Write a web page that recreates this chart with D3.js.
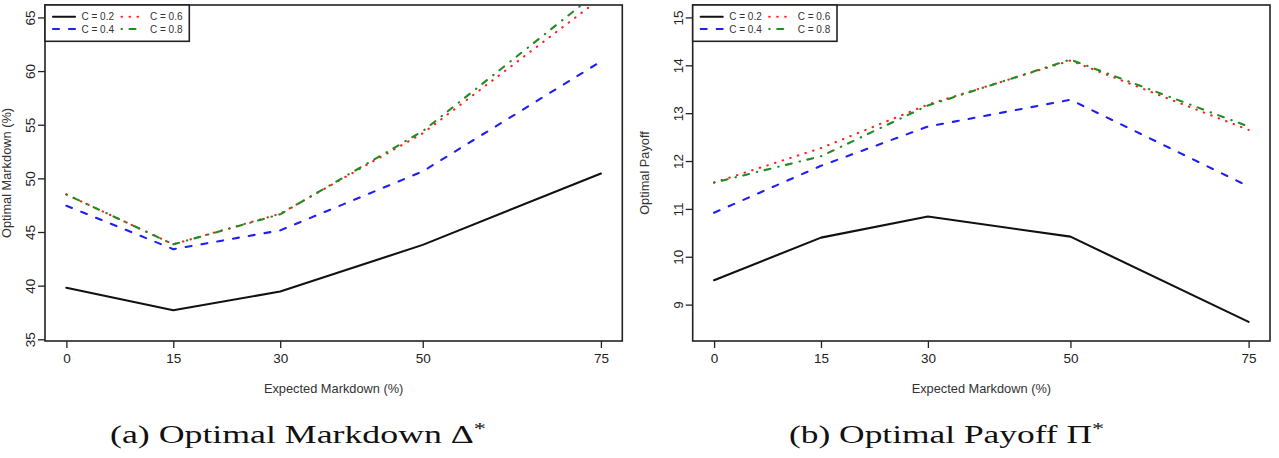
<!DOCTYPE html>
<html>
<head>
<meta charset="utf-8">
<script src="https://cdn.jsdelivr.net/npm/d3@7"></script>
<style>
  body { margin: 0; background: #fff; }
  svg { display: block; }
  .tick text { font-family: "Liberation Sans", Arial, sans-serif; fill: #222; }
</style>
</head>
<body>
<svg id="chart" width="1279" height="458"></svg>
<script>
// Expected markdown levels on the x axis
const xValues = [0, 15, 30, 50, 75];
const seriesNames = ["C = 0.2", "C = 0.4", "C = 0.6", "C = 0.8"];

// Panel (a): optimal markdown (%)
const markdown02 = [39.8, 37.7, 39.45, 43.8, 50.45];
const markdown04 = [47.45, 43.4, 45.15, 50.65, 60.9];
const markdown06 = [48.5, 43.85, 46.7, 54.2, 66.8];
const markdown08 = [48.5, 43.85, 46.65, 54.4, 67.6];

// Panel (b): optimal payoff
const payoff02 = [9.51, 10.40, 10.84, 10.42, 8.64];
const payoff04 = [10.92, 11.9, 12.72, 13.28, 11.47];
const payoff06 = [11.55, 12.27, 13.18, 14.1, 12.65];
const payoff08 = [11.55, 12.1, 13.16, 14.12, 12.72];

const xTicks = [0, 15, 30, 50, 75];
const markdownTicks = [35, 40, 45, 50, 55, 60, 65];
const payoffTicks = [9, 10, 11, 12, 13, 14, 15];

// R style line types: solid, dashed, dotted, dot-dash
const lineStyles = [
  {color: "#111111", dash: null},
  {color: "#1f1ff0", dash: "6,10"},
  {color: "#ff2020", dash: "0.5,7.5"},
  {color: "#228b22", dash: "0.5,7.5,6,8"}
];

const svg = d3.select("#chart");

function drawPanel(p) {

  const g = svg.append("g");

  // ylim is padded by 4% like R does
  const x = d3.scaleLinear().domain([-3, 78]).range([p.x0, p.x1]);
  const y = d3.scaleLinear().domain(p.yDomain).range([p.y1, p.y0]);

  const clipId = "clip-" + p.id;
  g.append("clipPath").attr("id", clipId)
    .append("rect")
    .attr("x", p.x0).attr("y", p.y0)
    .attr("width", p.x1 - p.x0).attr("height", p.y1 - p.y0);

  const line = d3.line()
    .x((d, i) => x(xValues[i]))
    .y(d => y(d));

  p.series.forEach((values, i) => {
    const s = lineStyles[i];
    g.append("path")
      .attr("clip-path", "url(#" + clipId + ")")
      .attr("d", line(values))
      .attr("fill", "none")
      .attr("stroke", s.color)
      .attr("stroke-width", 2.1)
      .attr("stroke-linecap", "round")
      .attr("stroke-linejoin", "round")
      .attr("stroke-dasharray", s.dash);
  });

  // x axis
  const xAxis = g.append("g")
    .attr("transform", "translate(0," + p.y1 + ")")
    .call(d3.axisBottom(x).tickValues(xTicks).tickSize(7).tickPadding(5).tickSizeOuter(0));
  xAxis.select(".domain").remove();
  xAxis.selectAll(".tick line").attr("stroke", "#222").attr("stroke-width", 1.3);
  xAxis.selectAll(".tick text").attr("font-size", 13.5);

  // y axis, labels turned like R's default
  const yAxis = g.append("g")
    .attr("transform", "translate(" + p.x0 + ",0)")
    .call(d3.axisLeft(y).tickValues(p.yTicks).tickFormat(d3.format("d")).tickSize(7).tickSizeOuter(0));
  yAxis.select(".domain").remove();
  yAxis.selectAll(".tick line").attr("stroke", "#222").attr("stroke-width", 1.3);
  yAxis.selectAll(".tick text")
    .attr("font-size", 13.5)
    .attr("transform", "rotate(-90)")
    .attr("x", 0)
    .attr("y", -10)
    .attr("dy", 0)
    .attr("text-anchor", "middle");

  // plot box
  g.append("rect")
    .attr("x", p.x0).attr("y", p.y0)
    .attr("width", p.x1 - p.x0).attr("height", p.y1 - p.y0)
    .attr("fill", "none")
    .attr("stroke", "#222")
    .attr("stroke-width", 1.6);

  // axis titles
  g.append("text")
    .attr("x", x(37.5))
    .attr("y", 393)
    .attr("text-anchor", "middle")
    .attr("font-family", "Liberation Sans, Arial, sans-serif")
    .attr("font-size", 12.8)
    .attr("fill", "#333")
    .text("Expected Markdown (%)");

  g.append("text")
    .attr("transform", "translate(" + p.yTitleX + "," + ((p.y0 + p.y1) / 2) + ") rotate(-90)")
    .attr("text-anchor", "middle")
    .attr("font-family", "Liberation Sans, Arial, sans-serif")
    .attr("font-size", 12.8)
    .attr("fill", "#333")
    .text(p.yTitle);

  // legend, two columns
  const lg = g.append("g").attr("transform", "translate(" + p.x0 + "," + p.y0 + ")");
  lg.append("rect")
    .attr("width", 144.3).attr("height", 36.3)
    .attr("fill", "#fff")
    .attr("stroke", "#222")
    .attr("stroke-width", 1.6);

  seriesNames.forEach((name, i) => {
    const col = Math.floor(i / 2);
    const row = i % 2;
    const lx = 8 + col * 68.5;
    const ly = 11.7 + row * 12.3;
    const s = lineStyles[i];
    lg.append("line")
      .attr("x1", lx).attr("x2", lx + 22)
      .attr("y1", ly).attr("y2", ly)
      .attr("stroke", s.color)
      .attr("stroke-width", 2.1)
      .attr("stroke-linecap", "round")
      .attr("stroke-dasharray", s.dash);
    lg.append("text")
      .attr("x", lx + 28.5)
      .attr("y", ly)
      .attr("dy", "0.35em")
      .attr("font-family", "Liberation Sans, Arial, sans-serif")
      .attr("font-size", 10)
      .attr("fill", "#333")
      .text(name);
  });

  // caption under the panel
  const cap = svg.append("text")
    .attr("x", p.capX)
    .attr("y", 443)
    .attr("font-family", "Liberation Serif, Times New Roman, serif")
    .attr("font-size", 25)
    .attr("fill", "#111")
    .attr("textLength", p.capW)
    .attr("lengthAdjust", "spacingAndGlyphs");
  cap.append("tspan").text(p.caption);
  cap.append("tspan").attr("dy", -9).attr("font-size", 17).text("*");
}

drawPanel({
  id: "a",
  x0: 45, x1: 622.3, y0: 5, y1: 341,
  yDomain: [34.84, 66.16],
  yTicks: markdownTicks,
  yTitle: "Optimal Markdown (%)",
  yTitleX: 11,
  series: [markdown02, markdown04, markdown06, markdown08],
  caption: "(a) Optimal Markdown \u0394",
  capX: 110, capW: 376
});

drawPanel({
  id: "b",
  x0: 692.7, x1: 1270, y0: 5, y1: 341,
  yDomain: [8.24, 15.26],
  yTicks: payoffTicks,
  yTitle: "Optimal Payoff",
  yTitleX: 649,
  series: [payoff02, payoff04, payoff06, payoff08],
  caption: "(b) Optimal Payoff \u03a0",
  capX: 789, capW: 315
});
</script>
</body>
</html>
